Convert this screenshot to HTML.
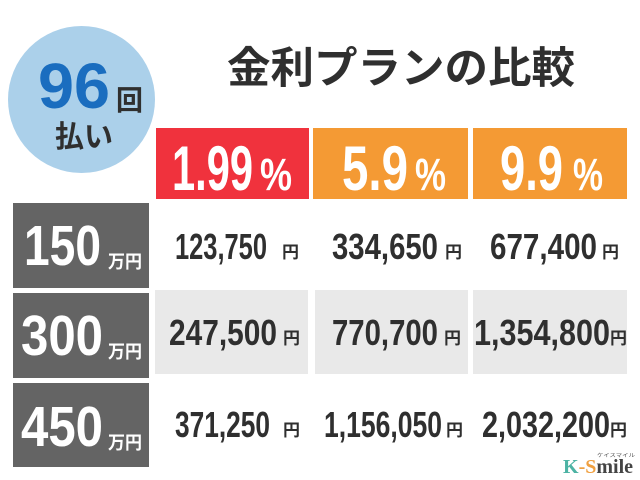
<!DOCTYPE html>
<html>
<head>
<meta charset="utf-8">
<style>
html,body{margin:0;padding:0;background:#fff;}
svg{display:block;}
.num{font-family:"Liberation Sans","Noto Sans CJK JP",sans-serif;font-weight:bold;}
.jp{font-family:"Liberation Sans","Noto Sans CJK JP",sans-serif;font-weight:bold;}
</style>
</head>
<body>
<svg width="640" height="480" viewBox="0 0 640 480" xmlns="http://www.w3.org/2000/svg">
  <rect x="0" y="0" width="640" height="480" fill="#ffffff"/>

  <!-- circle -->
  <circle cx="81.5" cy="99.5" r="73.5" fill="#abd0ea"/>
  <text class="num" x="38" y="108" font-size="64" fill="#1a6dbf" textLength="72" lengthAdjust="spacingAndGlyphs">96</text>
  <text class="jp" x="116" y="110" font-size="28" fill="#2f2f2f" textLength="27" lengthAdjust="spacingAndGlyphs">回</text>
  <text class="jp" x="55" y="147" font-size="30" fill="#2f2f2f" textLength="58" lengthAdjust="spacingAndGlyphs">払い</text>

  <!-- title -->
  <text class="jp" x="227" y="83" font-size="43" fill="#2f2f2f" textLength="348" lengthAdjust="spacingAndGlyphs">金利プランの比較</text>

  <!-- rate headers -->
  <rect x="156" y="128" width="153" height="71" fill="#f0323d"/>
  <rect x="313" y="128" width="155" height="71" fill="#f49a34"/>
  <rect x="473" y="128" width="154" height="71" fill="#f49a34"/>
  <text class="num" x="172" y="190" font-size="63" fill="#ffffff" textLength="81" lengthAdjust="spacingAndGlyphs">1.99</text>
  <text class="num" x="260" y="190" font-size="45" fill="#ffffff" textLength="32" lengthAdjust="spacingAndGlyphs">%</text>
  <text class="num" x="342" y="190" font-size="63" fill="#ffffff" textLength="66" lengthAdjust="spacingAndGlyphs">5.9</text>
  <text class="num" x="415" y="190" font-size="45" fill="#ffffff" textLength="31" lengthAdjust="spacingAndGlyphs">%</text>
  <text class="num" x="500" y="190" font-size="63" fill="#ffffff" textLength="63" lengthAdjust="spacingAndGlyphs">9.9</text>
  <text class="num" x="573" y="190" font-size="45" fill="#ffffff" textLength="30" lengthAdjust="spacingAndGlyphs">%</text>

  <!-- row headers -->
  <rect x="13" y="203" width="136" height="85" fill="#646464"/>
  <rect x="13" y="293" width="136" height="85" fill="#646464"/>
  <rect x="13" y="383" width="136" height="84" fill="#646464"/>
  <text class="num" x="24" y="265" font-size="57" fill="#ffffff" textLength="77" lengthAdjust="spacingAndGlyphs">150</text>
  <text class="jp" x="108" y="268" font-size="18" fill="#ffffff" textLength="34" lengthAdjust="spacingAndGlyphs">万円</text>
  <text class="num" x="21" y="355" font-size="57" fill="#ffffff" textLength="82" lengthAdjust="spacingAndGlyphs">300</text>
  <text class="jp" x="108" y="358" font-size="18" fill="#ffffff" textLength="34" lengthAdjust="spacingAndGlyphs">万円</text>
  <text class="num" x="21" y="446" font-size="57" fill="#ffffff" textLength="82" lengthAdjust="spacingAndGlyphs">450</text>
  <text class="jp" x="108" y="449" font-size="18" fill="#ffffff" textLength="34" lengthAdjust="spacingAndGlyphs">万円</text>

  <!-- gray middle row cells -->
  <rect x="155" y="290" width="153" height="84" fill="#e9e9e9"/>
  <rect x="315" y="290" width="153" height="84" fill="#e9e9e9"/>
  <rect x="473" y="290" width="154" height="84" fill="#e9e9e9"/>

  <!-- row 1 values -->
  <text class="num" x="175" y="259" font-size="36" fill="#2f2f2f" textLength="92" lengthAdjust="spacingAndGlyphs">123,750</text>
  <text class="jp" x="282" y="258" font-size="17" fill="#2f2f2f">円</text>
  <text class="num" x="332" y="259" font-size="36" fill="#2f2f2f" textLength="106" lengthAdjust="spacingAndGlyphs">334,650</text>
  <text class="jp" x="445" y="258" font-size="17" fill="#2f2f2f">円</text>
  <text class="num" x="490" y="259" font-size="36" fill="#2f2f2f" textLength="107" lengthAdjust="spacingAndGlyphs">677,400</text>
  <text class="jp" x="602" y="258" font-size="17" fill="#2f2f2f">円</text>

  <!-- row 2 values -->
  <text class="num" x="169" y="345" font-size="36" fill="#2f2f2f" textLength="108" lengthAdjust="spacingAndGlyphs">247,500</text>
  <text class="jp" x="283" y="344" font-size="17" fill="#2f2f2f">円</text>
  <text class="num" x="332" y="345" font-size="36" fill="#2f2f2f" textLength="106" lengthAdjust="spacingAndGlyphs">770,700</text>
  <text class="jp" x="444" y="344" font-size="17" fill="#2f2f2f">円</text>
  <text class="num" x="474" y="345" font-size="36" fill="#2f2f2f" textLength="136" lengthAdjust="spacingAndGlyphs">1,354,800</text>
  <text class="jp" x="610" y="344" font-size="17" fill="#2f2f2f">円</text>

  <!-- row 3 values -->
  <text class="num" x="175" y="437" font-size="36" fill="#2f2f2f" textLength="95" lengthAdjust="spacingAndGlyphs">371,250</text>
  <text class="jp" x="283" y="436" font-size="17" fill="#2f2f2f">円</text>
  <text class="num" x="324" y="437" font-size="36" fill="#2f2f2f" textLength="118" lengthAdjust="spacingAndGlyphs">1,156,050</text>
  <text class="jp" x="446" y="436" font-size="17" fill="#2f2f2f">円</text>
  <text class="num" x="482" y="437" font-size="36" fill="#2f2f2f" textLength="128" lengthAdjust="spacingAndGlyphs">2,032,200</text>
  <text class="jp" x="610" y="436" font-size="17" fill="#2f2f2f">円</text>

  <!-- logo -->
  <text x="597" y="457" font-family="'Liberation Sans','Noto Sans CJK JP',sans-serif" font-size="5" fill="#555" textLength="38" lengthAdjust="spacingAndGlyphs">ケイスマイル</text>
  <text x="563" y="473" font-family="'Liberation Serif',serif" font-weight="bold" font-size="20"><tspan fill="#4db3a4">K</tspan><tspan fill="#f0a040">-S</tspan><tspan fill="#444">mile</tspan></text>
</svg>
</body>
</html>
